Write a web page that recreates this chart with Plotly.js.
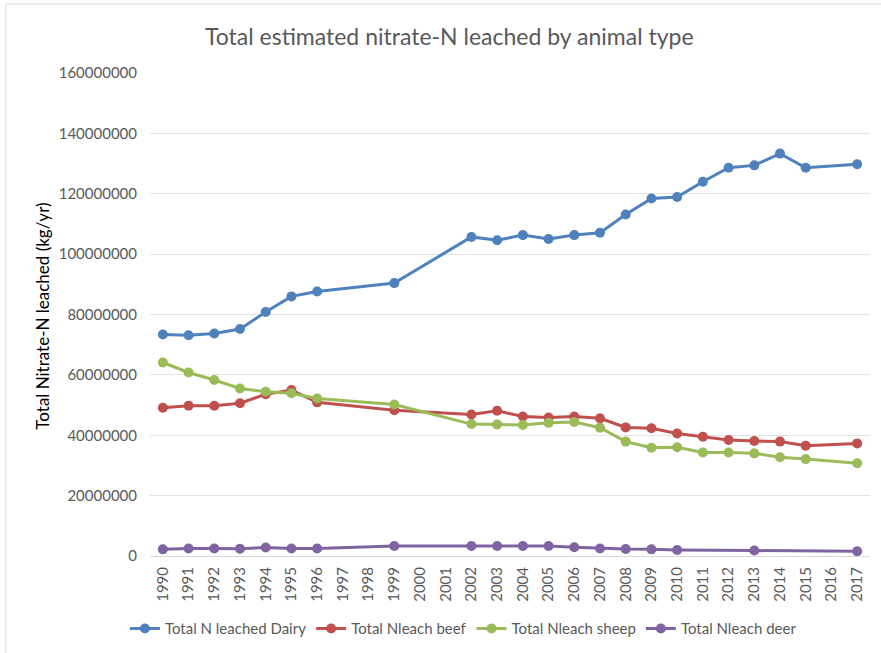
<!DOCTYPE html>
<html>
<head>
<meta charset="utf-8">
<script src="https://cdn.plot.ly/plotly-3.0.1.min.js"></script>
<style>html,body{margin:0;padding:0;background:#fff;}#chart{width:881px;height:653px;}</style>
</head>
<body>
<div id="chart"></div>
<script>
var years = ['1990','1991','1992','1993','1994','1995','1996','1997','1998','1999','2000','2001','2002','2003','2004','2005','2006','2007','2008','2009','2010','2011','2012','2013','2014','2015','2016','2017'];

var dairy = [73400000,73100000,73700000,75200000,80800000,86000000,87600000,null,null,90400000,null,null,105700000,104600000,106300000,105000000,106300000,107100000,113100000,118400000,118900000,124000000,128600000,129400000,133300000,128600000,null,129800000];
var beef  = [49100000,49800000,49800000,50600000,53600000,55000000,50900000,null,null,48300000,null,null,46900000,48100000,46200000,45900000,46200000,45600000,42600000,42300000,40600000,39500000,38400000,38100000,37900000,36500000,null,37300000];
var sheep = [64100000,60800000,58300000,55500000,54400000,53900000,52200000,null,null,50200000,null,null,43700000,43600000,43400000,44100000,44400000,42500000,37900000,35900000,36000000,34300000,34300000,34000000,32700000,32100000,null,30700000];
var deer  = [2200000,2500000,2500000,2400000,2800000,2500000,2500000,null,null,3300000,null,null,3300000,3300000,3300000,3300000,2900000,2500000,2300000,2200000,2000000,null,null,1800000,null,null,null,1600000];

var seriesNames = ['Total N leached Dairy','Total Nleach beef','Total Nleach sheep','Total Nleach deer'];
var seriesData = [dairy, beef, sheep, deer];
var colors = ['#4f81bd','#c0504d','#9bbb59','#8064a2'];

var traces = seriesData.map(function(d,i){
  return {
    x: years, y: d, name: seriesNames[i], type: 'scatter', mode: 'lines+markers',
    connectgaps: true,
    line: {color: colors[i], width: 3},
    marker: {color: colors[i], size: 10}
  };
});

var layout = {
  width: 881, height: 653,
  margin: {l: 150, r: 11, t: 73, b: 97},
  paper_bgcolor: '#ffffff', plot_bgcolor: '#ffffff',
  font: {family: 'Lato, "Open Sans", sans-serif', color: '#595959', size: 15},
  title: {text: 'Total estimated nitrate-N leached by animal type', font: {size: 23, color: '#595959'}, x: 0.51, xanchor: 'center', y: 0.943, yanchor: 'middle', yref: 'container'},
  xaxis: {
    type: 'category', range: [-0.5, 27.5], tickangle: -90, showgrid: false,
    showline: true, linecolor: '#d9d9d9', linewidth: 1, ticks: '', ticklabelstandoff: 4,
    tickfont: {size: 15, color: '#595959'}, fixedrange: true, automargin: false
  },
  yaxis: {
    range: [0, 160000000], dtick: 20000000, tickformat: 'd',
    showgrid: true, gridcolor: '#e3e3e3', gridwidth: 1, zeroline: false,
    showline: false, ticks: '', ticklabelstandoff: 12,
    tickfont: {size: 15, color: '#595959'}, fixedrange: true, automargin: false
  },
  showlegend: true,
  legend: {orientation: 'h', xref: 'container', yref: 'container', x: 0.526, xanchor: 'center', y: 0.037, yanchor: 'middle', font: {size: 15, color: '#595959'}, itemwidth: 30, tracegroupgap: 0},
  annotations: [{
    text: 'Total Nitrate-N leached (kg/yr)', xref: 'paper', yref: 'paper', x: -0.149, y: 0.497,
    xanchor: 'center', yanchor: 'middle', textangle: -90, showarrow: false,
    font: {size: 17, color: '#000000', family: 'Lato, "Open Sans", sans-serif'}
  }],
  shapes: [
    {type: 'line', xref: 'paper', yref: 'paper', x0: -0.2, x1: 1.2, y0: 1.143, y1: 1.143, line: {color: '#d9d9d9', width: 1}},
    {type: 'line', xref: 'paper', yref: 'paper', x0: -0.2, x1: -0.2, y0: 1.143, y1: -0.3, line: {color: '#d9d9d9', width: 1}}
  ]
};

Plotly.newPlot('chart', traces, layout, {displayModeBar: false, staticPlot: true});
</script>
</body>
</html>
